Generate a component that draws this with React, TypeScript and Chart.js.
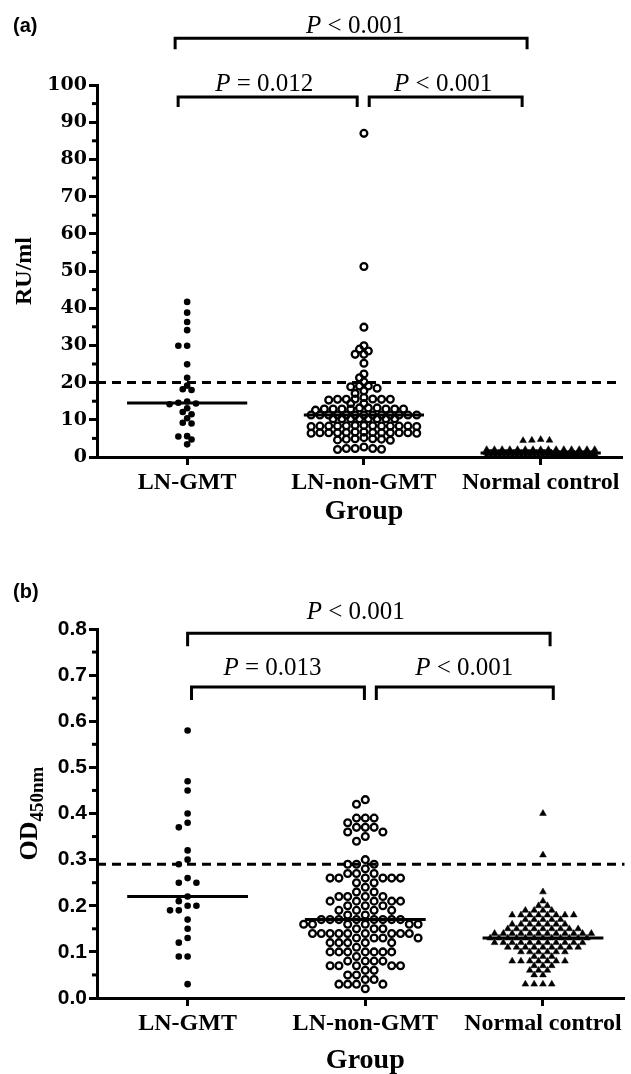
import React, { useEffect, useRef } from 'react';
import { Chart, registerables } from 'chart.js';

Chart.register(...registerables);

// ---------------- data ----------------
const categories = ['LN-GMT', 'LN-non-GMT', 'Normal control'];

// Panel (a): RU/ml
const ruLnGmt = [41.7, 38.8, 36.3, 34.1, 29.9, 29.9, 24.9, 21.3, 19.2, 18.2, 18.0, 14.9, 14.6, 14.4, 14.2, 13.1, 12.1, 11.5, 10.4, 9.2, 9.0, 5.6, 5.5, 4.7, 3.4];
const ruLnNonGmt = [
  87.0, 51.2, 34.9, 29.9, 29.0, 28.5, 27.6, 27.6, 25.2, 22.3, 21.3, 20.2, 19.1, 19.1, 18.9, 18.5, 17.8, 17.1,
  16.0, 15.6, 15.5, 15.5, 15.3, 15.5, 15.5, 15.6,
  14.4, 14.4,
  13.2, 12.9, 12.9, 12.9, 12.9, 12.6, 12.9, 12.9, 12.9, 13.2, 13.2,
  11.3, 11.3, 11.3, 11.3, 11.3, 11.3, 11.3, 11.3, 11.3, 11.3, 11.3, 11.3, 11.3,
  10.3, 10.3, 10.3, 10.3, 10.3, 10.3, 10.3, 10.3,
  8.5, 8.3, 8.3, 8.2, 8.3, 8.4, 8.3, 8.3, 8.2, 8.3, 8.4, 8.3, 8.5,
  6.7, 6.5, 6.5, 6.4, 6.5, 6.6, 6.5, 6.5, 6.4, 6.5, 6.6, 6.5, 6.7,
  4.5, 4.9, 4.8, 4.6, 4.8, 4.9, 5.2,
  2.7, 2.3, 2.3, 2.1, 2.0, 2.3,
];
const ruNormal = [
  4.7, 4.5, 4.5, 4.4,
  2.0, 2.0, 2.0, 2.0, 2.0, 2.0, 2.0, 2.0, 2.0, 2.0, 2.0, 2.0, 2.0, 2.0, 2.0,
  1.1, 1.1, 1.1, 1.1, 1.1, 1.1, 1.1, 1.1, 1.1, 1.1, 1.1, 1.1, 1.1, 1.1, 1.1, 1.1, 1.1, 1.1, 1.1, 1.1,
  1.1, 1.1, 1.1, 1.1, 1.1, 1.1, 1.1, 1.1, 1.1, 1.1, 1.1, 1.1, 1.1, 1.1, 1.1, 1.1, 1.1, 1.1, 1.1, 1.1,
  0.8, 0.8, 0.8, 0.8, 0.8, 0.8, 0.8, 0.8, 0.8, 0.8, 0.8, 0.8, 0.8, 0.8, 0.8, 0.8, 0.8, 0.8, 0.8, 0.8, 0.8, 0.8, 0.8, 0.8, 0.8, 0.8,
  0.2, 0.2, 0.2, 0.2, 0.2, 0.2, 0.2, 0.2, 0.2, 0.2, 0.2, 0.2, 0.2, 0.2, 0.2, 0.2, 0.2, 0.2, 0.2, 0.2, 0.2, 0.2, 0.2, 0.2, 0.2, 0.2,
];
const ruMedians = [14.5, 11.3, 1.1];
const ruCutoff = 20;
const ruPLabels = ['P < 0.001', 'P = 0.012', 'P < 0.001'];

// Panel (b): OD450nm
const odLnGmt = [0.58, 0.47, 0.45, 0.40, 0.38, 0.37, 0.32, 0.30, 0.29, 0.26, 0.25, 0.25, 0.22, 0.21, 0.20, 0.20, 0.19, 0.19, 0.17, 0.15, 0.13, 0.12, 0.09, 0.09, 0.03];
const odLnNonGmt = [
  0.43, 0.42,
  0.39, 0.39, 0.39, 0.38,
  0.37, 0.37, 0.37, 0.36, 0.36, 0.35, 0.34,
  0.30,
  0.29, 0.29, 0.29,
  0.28,
  0.27, 0.27, 0.27,
  0.26, 0.26, 0.26, 0.26, 0.26, 0.26,
  0.25, 0.25,
  0.24,
  0.23, 0.23,
  0.22, 0.22, 0.22, 0.22,
  0.21, 0.21, 0.21, 0.21, 0.21,
  0.20, 0.20, 0.20,
  0.19, 0.19, 0.19, 0.19,
  0.18, 0.18,
  0.17, 0.17, 0.17, 0.17, 0.17, 0.17, 0.17, 0.17,
  0.16, 0.16, 0.16, 0.16, 0.16, 0.16,
  0.15, 0.15, 0.15,
  0.14, 0.14, 0.14, 0.14, 0.14, 0.14, 0.14, 0.14, 0.14,
  0.13, 0.13, 0.13, 0.13,
  0.12, 0.12, 0.12, 0.12, 0.12,
  0.11,
  0.10, 0.10, 0.10, 0.10, 0.10, 0.10, 0.10,
  0.09,
  0.08, 0.08, 0.08, 0.08,
  0.07, 0.07, 0.07, 0.07, 0.07,
  0.06, 0.06,
  0.05, 0.05,
  0.04, 0.04,
  0.03, 0.03, 0.03, 0.03,
  0.02,
];
const odNormal = [
  0.40, 0.31, 0.23, 0.21, 0.20, 0.20,
  0.19, 0.19, 0.19, 0.19,
  0.18, 0.18, 0.18, 0.18, 0.18, 0.18, 0.18, 0.18,
  0.17, 0.17, 0.17, 0.17, 0.17,
  0.16, 0.16, 0.16, 0.16, 0.16, 0.16, 0.16,
  0.15, 0.15, 0.15, 0.15, 0.15, 0.15, 0.15, 0.15, 0.15,
  0.14, 0.14, 0.14, 0.14, 0.14, 0.14, 0.14, 0.14, 0.14, 0.14, 0.14, 0.14,
  0.13, 0.13, 0.13, 0.13, 0.13, 0.13, 0.13, 0.13, 0.13, 0.13, 0.13, 0.13,
  0.12, 0.12, 0.12, 0.12, 0.12, 0.12, 0.12, 0.12, 0.12, 0.12, 0.12,
  0.11, 0.11, 0.11, 0.11, 0.11, 0.11, 0.11, 0.11, 0.11,
  0.10, 0.10, 0.10, 0.10, 0.10, 0.10,
  0.09, 0.09, 0.09,
  0.08, 0.08, 0.08, 0.08, 0.08, 0.08, 0.08,
  0.07, 0.07, 0.07,
  0.06, 0.06, 0.06,
  0.05, 0.05,
  0.03, 0.03, 0.03, 0.03,
];
const odMedians = [0.22, 0.17, 0.13];
const odCutoff = 0.29;
const odPLabels = ['P < 0.001', 'P = 0.013', 'P < 0.001'];

const xTitle = 'Group';

// ---------------- layout helpers ----------------
type PanelCfg = {
  tag: string;
  groups: number[][];
  medians: number[];
  cutoff: number;
  pLabels: string[];
  yMax: number;
  yStep: number;
  decimals: number;
  canvasH: number;
  padTop: number;
  padRight: number;
  xAxisH: number;
  yTickFont: any;
  brackets: { x0: number; x1: number; y: number; drop: number; tx: number; gap: number }[];
  tagBaseline: number;
  groupBaseline: number;
  swarmGap: number[];
  yTitle: (ctx: CanvasRenderingContext2D, cx: number, cy: number) => void;
};

const SERIF = '"Liberation Serif", "Times New Roman", serif';
const SANS = '"Liberation Sans", Arial, sans-serif';

// Column beeswarm (GraphPad-like): slots on a half-symbol grid, nearest free slot to the centre.
function swarmOffsets(vals: number[], toPx: (v: number) => number, d: number, maxW: number, binPx: number, c: number): number[] {
  const order = vals.map((_, i) => i).sort((a, b) => vals[b] - vals[a]);
  const rows: number[][] = [];
  let start = 0;
  for (const i of order) {
    const p = toPx(vals[i]);
    const last = rows[rows.length - 1];
    if (last && Math.abs(p - start) <= binPx) last.push(i);
    else {
      rows.push([i]);
      start = p;
    }
  }
  const maxN = Math.floor(maxW / d) + 1;
  const offs = new Array(vals.length).fill(0);
  const placed: { x: number; y: number }[] = [];
  for (const r of rows) {
    const n = r.length;
    if (n > maxN) {
      const step = maxW / (n - 1);
      r.forEach((i, k) => {
        const x = (k - (n - 1) / 2) * step;
        offs[i] = x;
        placed.push({ x, y: toPx(vals[i]) });
      });
      continue;
    }
    for (const i of r) {
      const y = toPx(vals[i]);
      let chosen = 0;
      for (let m = 0; m < 80; m++) {
        const k = m === 0 ? 0 : m % 2 === 1 ? -Math.ceil(m / 2) : Math.ceil(m / 2);
        const x = (k * d) / 2;
        if (!placed.some((p) => (p.x - x) * (p.x - x) + (p.y - y) * (p.y - y) < c * c)) {
          chosen = x;
          break;
        }
      }
      offs[i] = chosen;
      placed.push({ x: chosen, y });
    }
  }
  return offs;
}

function drawPText(ctx: CanvasRenderingContext2D, label: string, cx: number, baseline: number) {
  const p = label.slice(0, 1);
  const rest = label.slice(1);
  ctx.font = `italic 25px ${SERIF}`;
  const wp = ctx.measureText(p).width;
  ctx.font = `25px ${SERIF}`;
  const wr = ctx.measureText(rest).width;
  const x0 = cx - (wp + wr) / 2;
  ctx.textAlign = 'left';
  ctx.textBaseline = 'alphabetic';
  ctx.font = `italic 25px ${SERIF}`;
  ctx.fillText(p, x0, baseline);
  ctx.font = `25px ${SERIF}`;
  ctx.fillText(rest, x0 + wp, baseline);
}

function buildConfig(cfg: PanelCfg): any {
  const medianSets = cfg.medians.map((m, i) => ({
    type: 'line',
    data: [
      { x: i - 0.34, y: m },
      { x: i + 0.34, y: m },
    ],
    showLine: true,
    borderColor: '#000',
    borderWidth: 3,
    pointRadius: 0,
    fill: false,
    tension: 0,
  }));
  const cutoffSet = {
    type: 'line',
    data: [
      { x: -0.51, y: cfg.cutoff },
      { x: 2.46, y: cfg.cutoff },
    ],
    showLine: true,
    borderColor: '#000',
    borderWidth: 3,
    borderDash: [9, 6],
    pointRadius: 0,
    fill: false,
    tension: 0,
  };
  const styles = [
    { pointStyle: 'circle', pointRadius: 3.3, pointBackgroundColor: '#000', pointBorderColor: '#000', pointBorderWidth: 0 },
    { pointStyle: 'circle', pointRadius: 3.4, pointBackgroundColor: 'rgba(0,0,0,0)', pointBorderColor: '#000', pointBorderWidth: 2.3 },
    { pointStyle: 'triangle', pointRadius: 3.9, pointBackgroundColor: '#000', pointBorderColor: '#000', pointBorderWidth: 0.5 },
  ];
  const groupSets = cfg.groups.map((vals, gi) => ({
    type: 'scatter',
    data: vals.map((v) => ({ x: gi, y: v })),
    clip: false,
    ...styles[gi],
  }));

  const overlay = {
    id: 'overlay' + cfg.tag,
    afterDraw(chart: any) {
      const ctx: CanvasRenderingContext2D = chart.ctx;
      const xs = chart.scales.x;
      const ys = chart.scales.y;
      const { left, top, bottom } = chart.chartArea;
      ctx.save();
      ctx.strokeStyle = '#000';
      ctx.fillStyle = '#000';
      ctx.lineWidth = 3;
      ctx.lineCap = 'butt';
      ctx.lineJoin = 'miter';
      // minor ticks
      const nMajor = Math.round(cfg.yMax / cfg.yStep);
      for (let k = 0; k < nMajor; k++) {
        const v = (k + 0.5) * cfg.yStep;
        const y = ys.getPixelForValue(v);
        ctx.beginPath();
        ctx.moveTo(left - 5, y);
        ctx.lineTo(left, y);
        ctx.stroke();
      }
      // brackets
      cfg.brackets.forEach((b, i) => {
        const y = ys.getPixelForValue(b.y);
        const a = xs.getPixelForValue(b.x0);
        const c = xs.getPixelForValue(b.x1);
        ctx.beginPath();
        ctx.moveTo(a, y + b.drop);
        ctx.lineTo(a, y);
        ctx.lineTo(c, y);
        ctx.lineTo(c, y + b.drop);
        ctx.stroke();
        drawPText(ctx, cfg.pLabels[i], xs.getPixelForValue(b.tx), y - b.gap);
      });
      // x title
      ctx.font = `bold 28px ${SERIF}`;
      ctx.textAlign = 'center';
      ctx.textBaseline = 'alphabetic';
      ctx.fillText(xTitle, xs.getPixelForValue(1), cfg.groupBaseline);
      // y title
      cfg.yTitle(ctx, 25, (top + bottom) / 2);
      // panel tag
      ctx.font = `bold 20px ${SANS}`;
      ctx.textAlign = 'left';
      ctx.fillText(cfg.tag, 13, cfg.tagBaseline);
      ctx.restore();
    },
  };

  return {
    type: 'scatter',
    data: { datasets: [...medianSets, cutoffSet, ...groupSets] },
    plugins: [overlay],
    options: {
      responsive: false,
      animation: false,
      events: [],
      layout: { padding: { top: cfg.padTop, right: cfg.padRight, left: 0, bottom: 0 } },
      plugins: { legend: { display: false }, tooltip: { enabled: false }, title: { display: false } },
      scales: {
        x: {
          type: 'linear',
          min: -0.51,
          max: 2.46,
          afterBuildTicks: (s: any) => {
            s.ticks = categories.map((_, i) => ({ value: i }));
          },
          afterFit: (s: any) => {
            s.height = cfg.xAxisH;
          },
          ticks: {
            callback: (v: any) => categories[v] ?? '',
            autoSkip: false,
            maxRotation: 0,
            minRotation: 0,
            padding: 3,
            color: '#000',
            font: { family: SERIF, size: 24, weight: 'bold' },
          },
          grid: { drawOnChartArea: false, drawTicks: true, tickLength: 8, tickWidth: 3, tickColor: '#000', color: '#000' },
          border: { display: true, color: '#000', width: 3 },
        },
        y: {
          type: 'linear',
          min: 0,
          max: cfg.yMax,
          afterFit: (s: any) => {
            s.width = 97;
          },
          ticks: {
            stepSize: cfg.yStep,
            callback: (v: any) => Number(v).toFixed(cfg.decimals),
            padding: 2,
            color: '#000',
            font: cfg.yTickFont,
          },
          grid: { drawOnChartArea: false, drawTicks: true, tickLength: 8, tickWidth: 3, tickColor: '#000', color: '#000' },
          border: { display: true, color: '#000', width: 3 },
        },
      },
    },
  };
}

function applySwarm(chart: any, cfg: PanelCfg) {
  const xs = chart.scales.x;
  const ys = chart.scales.y;
  const unit = xs.getPixelForValue(1) - xs.getPixelForValue(0);
  const first = chart.data.datasets.length - cfg.groups.length;
  cfg.groups.forEach((vals, gi) => {
    const offs = swarmOffsets(vals, (v) => ys.getPixelForValue(v), 8.8, 108, 3, cfg.swarmGap[gi]);
    chart.data.datasets[first + gi].data = vals.map((v, i) => ({ x: gi + offs[i] / unit, y: v }));
  });
  chart.update();
}

const panelA: PanelCfg = {
  tag: '(a)',
  groups: [ruLnGmt, ruLnNonGmt, ruNormal],
  medians: ruMedians,
  cutoff: ruCutoff,
  pLabels: ruPLabels,
  yMax: 100,
  yStep: 10,
  decimals: 0,
  canvasH: 540,
  padTop: 85,
  padRight: 9,
  xAxisH: 83,
  yTickFont: { family: '"DejaVu Serif", serif', size: 19, weight: 'bold' },
  brackets: [
    { x0: -0.068, x1: 1.923, y: 112.6, drop: 11, tx: 0.95, gap: 5 },
    { x0: -0.051, x1: 0.962, y: 96.8, drop: 10, tx: 0.436, gap: 6 },
    { x0: 1.03, x1: 1.895, y: 96.8, drop: 10, tx: 1.448, gap: 6 },
  ],
  tagBaseline: 32,
  groupBaseline: 519,
  swarmGap: [5.5, 5.5, 5.5],
  yTitle: (ctx, cx, cy) => {
    ctx.save();
    ctx.translate(cx, cy);
    ctx.rotate(-Math.PI / 2);
    ctx.font = `bold 24px ${SERIF}`;
    ctx.textAlign = 'center';
    ctx.textBaseline = 'middle';
    ctx.fillText('RU/ml', 0, 0);
    ctx.restore();
  },
};

const panelB: PanelCfg = {
  tag: '(b)',
  groups: [odLnGmt, odLnNonGmt, odNormal],
  medians: odMedians,
  cutoff: odCutoff,
  pLabels: odPLabels,
  yMax: 0.8,
  yStep: 0.1,
  decimals: 1,
  canvasH: 534,
  padTop: 89,
  padRight: 0,
  xAxisH: 76,
  yTickFont: { family: SANS, size: 21, weight: 'bold' },
  brackets: [
    { x0: 0.0, x1: 2.04, y: 0.791, drop: 13, tx: 0.946, gap: 14 },
    { x0: 0.022, x1: 0.995, y: 0.674, drop: 13, tx: 0.478, gap: 12 },
    { x0: 1.062, x1: 2.058, y: 0.674, drop: 13, tx: 1.557, gap: 12 },
  ],
  tagBaseline: 58,
  groupBaseline: 528,
  swarmGap: [7, 7, 5.5],
  yTitle: (ctx, cx, cy) => {
    ctx.save();
    ctx.translate(cx + 4, cy);
    ctx.rotate(-Math.PI / 2);
    ctx.font = `bold 26px ${SERIF}`;
    const w1 = ctx.measureText('OD').width;
    ctx.font = `bold 19px ${SERIF}`;
    const w2 = ctx.measureText('450nm').width;
    const x0 = -(w1 + w2) / 2;
    ctx.textAlign = 'left';
    ctx.textBaseline = 'alphabetic';
    ctx.font = `bold 26px ${SERIF}`;
    ctx.fillText('OD', x0, 8);
    ctx.font = `bold 19px ${SERIF}`;
    ctx.fillText('450nm', x0 + w1, 14);
    ctx.restore();
  },
};

function Panel({ cfg }: { cfg: PanelCfg }) {
  const ref = useRef<HTMLCanvasElement>(null);
  useEffect(() => {
    const chart = new Chart(ref.current as HTMLCanvasElement, buildConfig(cfg));
    applySwarm(chart, cfg);
    return () => chart.destroy();
  }, [cfg]);
  return <canvas ref={ref} width={631} height={cfg.canvasH} style={{ display: 'block', width: 631, height: cfg.canvasH }} />;
}

export default function App() {
  return (
    <div style={{ position: 'absolute', left: 0, top: 0, width: 631, height: 1074, background: '#fff' }}>
      <Panel cfg={panelA} />
      <Panel cfg={panelB} />
    </div>
  );
}
